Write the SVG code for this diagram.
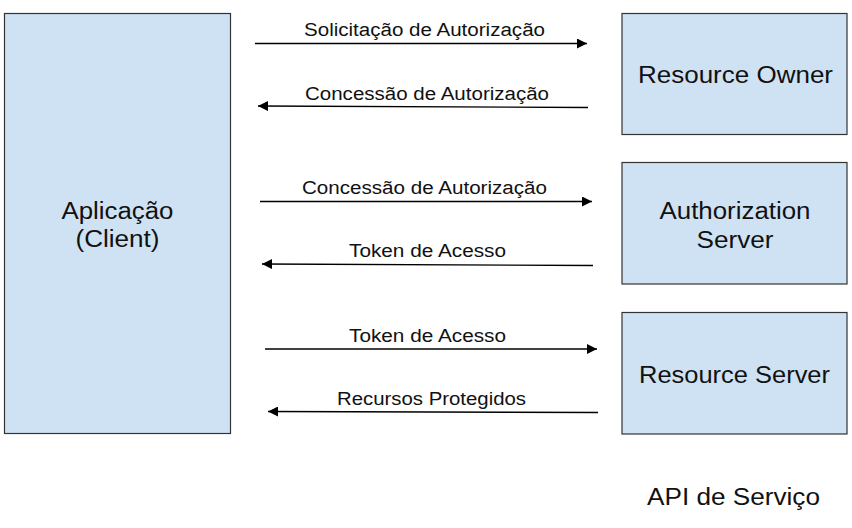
<svg xmlns="http://www.w3.org/2000/svg" width="852" height="528" viewBox="0 0 852 528">
<defs>
<style>
.box{fill:#cfe2f3;stroke:#333;stroke-width:1.2}
.big{font-family:"Liberation Sans",Arial,sans-serif;font-size:23.5px;fill:#111}
.lbl{font-family:"Liberation Sans",Arial,sans-serif;font-size:18px;fill:#111}
.ln{stroke:#000;stroke-width:1.3;fill:none}
</style>
<marker id="ah" markerUnits="userSpaceOnUse" markerWidth="11" markerHeight="10" refX="10" refY="5" orient="auto">
<path d="M0,0 L10,5 L0,10 Z" fill="#000"/>
</marker>
</defs>
<rect width="852" height="528" fill="#fff"/>
<g id="client">
<rect class="box" x="4.5" y="13.5" width="226" height="420"/>
<text class="big" x="117.5" y="218.5" text-anchor="middle" textLength="112" lengthAdjust="spacingAndGlyphs">Aplicação</text>
<text class="big" x="117.5" y="247" text-anchor="middle" textLength="84" lengthAdjust="spacingAndGlyphs">(Client)</text>
</g>
<g id="resource-owner">
<rect class="box" x="622" y="13.5" width="225" height="121"/>
<text class="big" x="735.5" y="83" text-anchor="middle" textLength="195" lengthAdjust="spacingAndGlyphs">Resource Owner</text>
</g>
<g id="authorization-server">
<rect class="box" x="622" y="162.5" width="225" height="121.5"/>
<text class="big" x="735" y="218.5" text-anchor="middle" textLength="151" lengthAdjust="spacingAndGlyphs">Authorization</text>
<text class="big" x="735" y="248" text-anchor="middle" textLength="77" lengthAdjust="spacingAndGlyphs">Server</text>
</g>
<g id="resource-server">
<rect class="box" x="622" y="312.5" width="225" height="121.5"/>
<text class="big" x="734.5" y="383" text-anchor="middle" textLength="191" lengthAdjust="spacingAndGlyphs">Resource Server</text>
</g>
<g id="api-label">
<text class="big" x="733.5" y="505" text-anchor="middle" textLength="173" lengthAdjust="spacingAndGlyphs">API de Serviço</text>
</g>
<g id="connectors">
<line class="ln" x1="255" y1="43.5" x2="587" y2="43.5" marker-end="url(#ah)"/>
<text class="lbl" x="424.5" y="36" text-anchor="middle" textLength="241" lengthAdjust="spacingAndGlyphs">Solicitação de Autorização</text>
<line class="ln" x1="588" y1="107.5" x2="258" y2="106" marker-end="url(#ah)"/>
<text class="lbl" x="427" y="100" text-anchor="middle" textLength="244" lengthAdjust="spacingAndGlyphs">Concessão de Autorização</text>
<line class="ln" x1="260" y1="201.5" x2="592" y2="201.5" marker-end="url(#ah)"/>
<text class="lbl" x="424.5" y="194" text-anchor="middle" textLength="245" lengthAdjust="spacingAndGlyphs">Concessão de Autorização</text>
<line class="ln" x1="593" y1="265.5" x2="262" y2="264" marker-end="url(#ah)"/>
<text class="lbl" x="427.5" y="257" text-anchor="middle" textLength="157" lengthAdjust="spacingAndGlyphs">Token de Acesso</text>
<line class="ln" x1="265" y1="349" x2="597" y2="349" marker-end="url(#ah)"/>
<text class="lbl" x="427.5" y="342" text-anchor="middle" textLength="157" lengthAdjust="spacingAndGlyphs">Token de Acesso</text>
<line class="ln" x1="598" y1="412.5" x2="268" y2="411.5" marker-end="url(#ah)"/>
<text class="lbl" x="431.5" y="405" text-anchor="middle" textLength="189" lengthAdjust="spacingAndGlyphs">Recursos Protegidos</text>
</g>
</svg>
